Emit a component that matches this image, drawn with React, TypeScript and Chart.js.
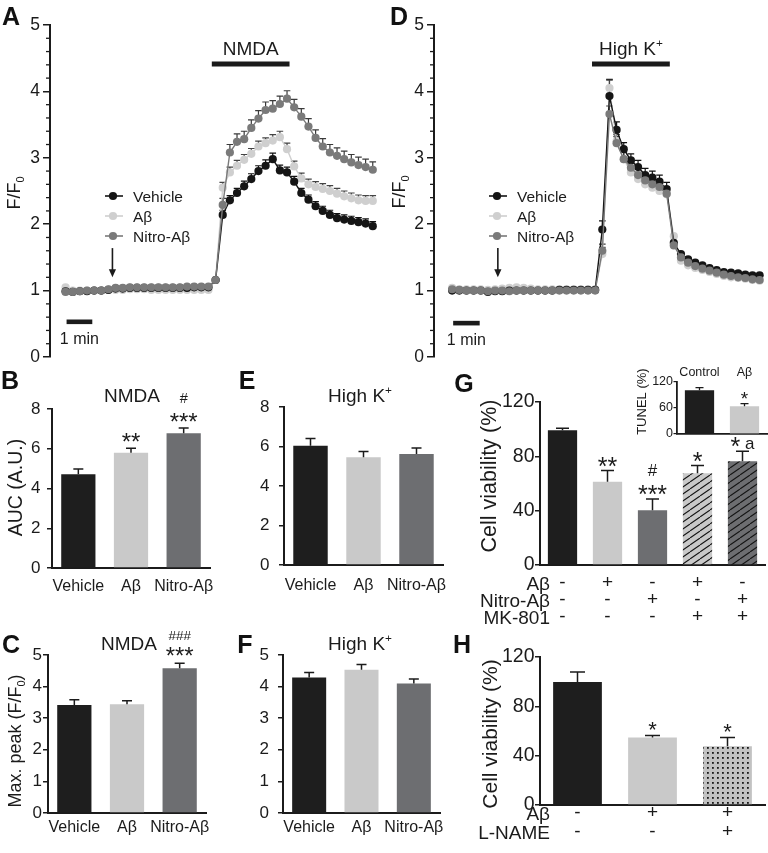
import React, { useEffect, useRef } from 'react';
import { Chart, registerables } from 'chart.js';

Chart.register(...registerables);

const FONT = '"Liberation Sans", Arial, Helvetica, sans-serif';
const INK = '#1b1b1b';
const C_BLACK = '#1e1e1e';
const C_LIGHT = '#c9c9c9';
const C_DARK = '#6d6e71';
const C_LINE_VEH = '#151515';
const C_LINE_AB = '#cfcfcf';
const C_LINE_NIT = '#7a7a7a';

// ---------------- Panels A / D : Ca2+ traces ----------------
const sampleIdx = [0, 1, 2, 3, 4, 5, 6, 7, 8, 9, 10, 11, 12, 13, 14, 15, 16, 17, 18, 19, 20, 21, 22, 23, 24, 25, 26, 27, 28, 29, 30, 31, 32, 33, 34, 35, 36, 37, 38, 39, 40, 41, 42, 43];
const traceNames = ['Vehicle', 'Aβ', 'Nitro-Aβ'];

const nmdaVehicle = [0.99, 0.98, 0.99, 0.99, 1.0, 1.0, 1.01, 1.03, 1.03, 1.04, 1.04, 1.04, 1.04, 1.04, 1.04, 1.04, 1.04, 1.04, 1.05, 1.05, 1.05, 1.16, 2.14, 2.36, 2.47, 2.57, 2.68, 2.8, 2.88, 2.98, 2.81, 2.78, 2.64, 2.47, 2.37, 2.27, 2.2, 2.14, 2.09, 2.07, 2.05, 2.03, 2.01, 1.97];
const nmdaVehicleErr = [0.02, 0.02, 0.02, 0.02, 0.02, 0.02, 0.02, 0.02, 0.02, 0.02, 0.02, 0.02, 0.02, 0.02, 0.02, 0.02, 0.02, 0.02, 0.02, 0.02, 0.02, 0.04, 0.07, 0.07, 0.07, 0.08, 0.08, 0.08, 0.09, 0.09, 0.08, 0.08, 0.08, 0.07, 0.07, 0.07, 0.07, 0.07, 0.07, 0.07, 0.07, 0.07, 0.07, 0.07];
const nmdaAb = [1.05, 1.0, 1.0, 1.0, 1.0, 1.0, 1.01, 1.01, 1.01, 1.02, 1.02, 1.02, 1.01, 1.01, 1.01, 1.01, 1.01, 1.01, 1.01, 1.01, 1.01, 1.16, 2.55, 2.78, 2.88, 2.97, 3.06, 3.17, 3.22, 3.26, 3.31, 3.13, 2.87, 2.69, 2.6, 2.56, 2.53, 2.5, 2.46, 2.42, 2.39, 2.36, 2.35, 2.35];
const nmdaAbErr = [0.02, 0.02, 0.02, 0.02, 0.02, 0.02, 0.02, 0.02, 0.02, 0.02, 0.02, 0.02, 0.02, 0.02, 0.02, 0.02, 0.02, 0.02, 0.02, 0.02, 0.02, 0.04, 0.08, 0.08, 0.08, 0.08, 0.08, 0.08, 0.08, 0.09, 0.09, 0.09, 0.08, 0.08, 0.08, 0.08, 0.08, 0.08, 0.08, 0.08, 0.08, 0.08, 0.08, 0.08];
const nmdaNitro = [0.98, 0.98, 0.99, 1.0, 1.0, 1.0, 1.02, 1.04, 1.04, 1.05, 1.05, 1.05, 1.05, 1.05, 1.05, 1.05, 1.05, 1.06, 1.06, 1.06, 1.06, 1.16, 2.29, 3.08, 3.24, 3.28, 3.45, 3.59, 3.72, 3.74, 3.81, 3.89, 3.76, 3.62, 3.47, 3.3, 3.17, 3.08, 3.03, 2.98, 2.93, 2.89, 2.86, 2.82];
const nmdaNitroErr = [0.02, 0.02, 0.02, 0.02, 0.02, 0.02, 0.02, 0.02, 0.02, 0.02, 0.02, 0.02, 0.02, 0.02, 0.02, 0.02, 0.02, 0.02, 0.02, 0.02, 0.02, 0.04, 0.1, 0.12, 0.12, 0.12, 0.12, 0.12, 0.12, 0.12, 0.12, 0.12, 0.12, 0.12, 0.12, 0.12, 0.12, 0.12, 0.12, 0.12, 0.12, 0.12, 0.12, 0.12];

const hkVehicle = [1.0, 1.0, 1.0, 1.0, 1.0, 0.98, 0.99, 0.99, 1.0, 1.0, 1.0, 1.0, 1.0, 1.0, 1.0, 1.01, 1.01, 1.01, 1.01, 1.01, 1.01, 1.92, 3.93, 3.42, 3.13, 2.96, 2.86, 2.74, 2.7, 2.64, 2.53, 1.72, 1.55, 1.47, 1.42, 1.38, 1.34, 1.31, 1.28, 1.27, 1.26, 1.24, 1.23, 1.23];
const hkVehicleErr = [0.02, 0.02, 0.02, 0.02, 0.02, 0.02, 0.02, 0.02, 0.02, 0.02, 0.02, 0.02, 0.02, 0.02, 0.02, 0.02, 0.02, 0.02, 0.02, 0.02, 0.02, 0.13, 0.25, 0.12, 0.1, 0.1, 0.1, 0.1, 0.1, 0.1, 0.1, 0.05, 0.04, 0.04, 0.04, 0.04, 0.04, 0.04, 0.04, 0.04, 0.04, 0.04, 0.04, 0.04];
const hkAb = [1.04, 1.02, 1.02, 1.02, 1.02, 1.01, 1.02, 1.03, 1.04, 1.05, 1.04, 1.03, 1.02, 1.02, 1.02, 1.02, 1.02, 1.02, 1.02, 1.02, 1.02, 1.55, 4.05, 3.25, 2.98, 2.78, 2.68, 2.6, 2.55, 2.5, 2.45, 1.82, 1.45, 1.38, 1.34, 1.31, 1.28, 1.25, 1.22, 1.2, 1.19, 1.18, 1.16, 1.15];
const hkAbErr = [0.02, 0.02, 0.02, 0.02, 0.02, 0.02, 0.02, 0.02, 0.02, 0.02, 0.02, 0.02, 0.02, 0.02, 0.02, 0.02, 0.02, 0.02, 0.02, 0.02, 0.02, 0.1, 0.12, 0.1, 0.1, 0.1, 0.1, 0.1, 0.1, 0.1, 0.1, 0.05, 0.04, 0.04, 0.04, 0.04, 0.04, 0.04, 0.04, 0.04, 0.04, 0.04, 0.04, 0.04];
const hkNitro = [1.02, 1.01, 1.0, 1.0, 1.0, 0.99, 1.0, 1.0, 0.99, 1.0, 1.0, 1.0, 1.0, 1.0, 1.0, 1.0, 1.0, 1.0, 1.0, 1.0, 1.0, 1.6, 3.66, 3.22, 2.98, 2.85, 2.74, 2.66, 2.6, 2.56, 2.46, 1.68, 1.5, 1.42, 1.37, 1.33, 1.3, 1.27, 1.24, 1.22, 1.2, 1.19, 1.17, 1.16];
const hkNitroErr = [0.02, 0.02, 0.02, 0.02, 0.02, 0.02, 0.02, 0.02, 0.02, 0.02, 0.02, 0.02, 0.02, 0.02, 0.02, 0.02, 0.02, 0.02, 0.02, 0.02, 0.02, 0.1, 0.12, 0.1, 0.1, 0.1, 0.1, 0.1, 0.1, 0.1, 0.1, 0.05, 0.04, 0.04, 0.04, 0.04, 0.04, 0.04, 0.04, 0.04, 0.04, 0.04, 0.04, 0.04];

const nmdaWindow = [20.47, 31.35];
const hkWindow = [19.56, 30.44];
const nmdaArrow = [6.56, 1.64, 1.2];
const hkArrow = [6.39, 1.64, 1.2];
const nmdaScaleBar = [0.14, 3.74, 0.53];
const hkScaleBar = [0.14, 3.85, 0.51];

// ---------------- Bar panels ----------------
const groups3 = ['Vehicle', 'Aβ', 'Nitro-Aβ'];
const aucNmda = [4.72, 5.8, 6.78];
const aucNmdaErr = [0.26, 0.23, 0.27];
const aucNmdaMarks = [[], ['**'], ['***', '#']];
const aucHighK = [6.04, 5.45, 5.62];
const aucHighKErr = [0.36, 0.3, 0.3];
const peakNmda = [3.42, 3.44, 4.58];
const peakNmdaErr = [0.16, 0.11, 0.16];
const peakNmdaMarks = [[], [], ['***', '###']];
const peakHighK = [4.29, 4.53, 4.1];
const peakHighKErr = [0.16, 0.17, 0.14];

const viabG = [99.2, 61.2, 40.3, 67.6, 76.4];
const viabGErr = [1.5, 8.3, 8.3, 5.6, 7.4];
const viabGMarks = [[], ['**'], ['***', '#'], ['*'], ['* a']];
const gRowNames = ['Aβ', 'Nitro-Aβ', 'MK-801'];
const gAbRow = ['-', '+', '-', '+', '-'];
const gNitroRow = ['-', '-', '+', '-', '+'];
const gMkRow = ['-', '-', '-', '+', '+'];

const tunelGroups = ['Control', 'Aβ'];
const tunel = [101, 64];
const tunelErr = [6, 6];
const tunelMarks = [[], ['*']];

const viabH = [99.7, 54.7, 47.7];
const viabHErr = [8.1, 1.6, 7.0];
const viabHMarks = [[], ['*'], ['*']];
const hRowNames = ['Aβ', 'L-NAME'];
const hAbRow = ['-', '+', '+'];
const hLnameRow = ['-', '-', '+'];

// ---------------- helpers ----------------
type Box = { left: number; top: number; width: number; height: number };
type Rect = { l: number; t: number; r: number; b: number };
type Part = { t: string; sub?: boolean; sup?: boolean };

function margins(c: Box, p: Rect) {
  return { l: p.l - c.left, t: p.t - c.top, r: c.left + c.width - p.r, b: c.top + c.height - p.b };
}

// draws text whose cap-middle sits at (x, y)
function drawRich(ctx: CanvasRenderingContext2D, parts: Part[] | string, x: number, y: number, size: number,
  align: 'left' | 'center' | 'right' = 'center', rotate = false) {
  const ps: Part[] = typeof parts === 'string' ? [{ t: parts }] : parts;
  ctx.save();
  ctx.translate(x, y);
  if (rotate) ctx.rotate(-Math.PI / 2);
  ctx.fillStyle = INK;
  ctx.textAlign = 'left';
  ctx.textBaseline = 'alphabetic';
  const fontFor = (p: Part) => `${p.sub || p.sup ? size * 0.62 : size}px ${FONT}`;
  let total = 0;
  const ws = ps.map((p) => { ctx.font = fontFor(p); const w = ctx.measureText(p.t).width; total += w; return w; });
  let cx = align === 'left' ? 0 : align === 'right' ? -total : -total / 2;
  const base = size * 0.36;
  ps.forEach((p, i) => {
    ctx.font = fontFor(p);
    const dy = p.sub ? size * 0.2 : p.sup ? -size * 0.4 : 0;
    ctx.fillText(p.t, cx, base + dy);
    cx += ws[i];
  });
  ctx.restore();
}

// significance marks: '*' at star size, everything else ('#', 'a', spaces) at the smaller size
function drawMark(ctx: CanvasRenderingContext2D, txt: string, x: number, baseline: number, starSize: number, otherSize: number) {
  const chars = txt.split('');
  const sz = (c: string) => (c === '*' ? starSize : otherSize);
  const hasStar = txt.indexOf('*') >= 0;
  let total = 0;
  const ws = chars.map((c) => { ctx.font = `${sz(c)}px ${FONT}`; const w = ctx.measureText(c).width; total += w; return w; });
  let cx = x - total / 2;
  ctx.fillStyle = INK; ctx.textAlign = 'left'; ctx.textBaseline = 'alphabetic';
  chars.forEach((c, i) => {
    ctx.font = `${sz(c)}px ${FONT}`;
    const raise = hasStar && c !== '*' && c !== '#' ? starSize * 0.26 : 0;
    ctx.fillText(c, cx, baseline - raise);
    cx += ws[i];
  });
}

function ChartBox({ box, make }: { box: Box; make: (cv: HTMLCanvasElement) => any }) {
  const ref = useRef<HTMLCanvasElement>(null);
  useEffect(() => {
    const cv = ref.current as HTMLCanvasElement;
    const chart = new Chart(cv, make(cv));
    return () => chart.destroy();
  }, []);
  return (
    <canvas ref={ref} width={box.width} height={box.height}
      style={{ position: 'absolute', left: box.left, top: box.top, width: box.width, height: box.height }} />
  );
}

// ---------------- trace chart ----------------
interface TraceSeries { label: string; data: number[]; err: number[]; color: string; errColor: string; order: number }
interface TraceSpec {
  box: Box; plot: Rect; xMin: number; xMax: number; series: TraceSeries[];
  stim: number[]; stimLabel: Part[]; arrow: number[]; scaleBar: number[]; yTitle: [number, number];
}

function traceConfig(s: TraceSpec) {
  const m = margins(s.box, s.plot);
  const deco = {
    id: 'traceDeco',
    beforeDatasetsDraw(chart: any) {
      const ctx = chart.ctx as CanvasRenderingContext2D; const ys = chart.scales.y;
      ctx.save();
      ctx.lineWidth = 1.2;
      s.series.forEach((ser, d) => {
        const meta = chart.getDatasetMeta(d);
        ctx.strokeStyle = ser.errColor;
        meta.data.forEach((pt: any, i: number) => {
          const top = ys.getPixelForValue(ser.data[i] + ser.err[i]);
          if (pt.y - top < 4) return;
          ctx.beginPath();
          ctx.moveTo(pt.x, pt.y); ctx.lineTo(pt.x, top);
          ctx.moveTo(pt.x - 3.3, top); ctx.lineTo(pt.x + 3.3, top);
          ctx.stroke();
        });
      });
      ctx.restore();
    },
    afterDraw(chart: any) {
      const ctx = chart.ctx as CanvasRenderingContext2D; const xs = chart.scales.x; const ys = chart.scales.y; const a = chart.chartArea;
      ctx.save();
      ctx.strokeStyle = INK; ctx.fillStyle = INK; ctx.lineWidth = 1.3;
      for (let k = 0; k <= 25; k++) {
        if (k % 5 === 0) continue;
        const py = ys.getPixelForValue(k / 5);
        ctx.beginPath(); ctx.moveTo(a.left - 4, py); ctx.lineTo(a.left, py); ctx.stroke();
      }
      // stimulus bar
      const sx1 = xs.getPixelForValue(s.stim[0]); const sx2 = xs.getPixelForValue(s.stim[1]);
      ctx.fillRect(sx1, a.top + 36.5, sx2 - sx1, 5);
      drawRich(ctx, s.stimLabel, (sx1 + sx2) / 2, a.top + 23, 19);
      // arrow
      const ax = xs.getPixelForValue(s.arrow[0]);
      const ay1 = ys.getPixelForValue(s.arrow[1]); const ay2 = ys.getPixelForValue(s.arrow[2]);
      ctx.lineWidth = 1.6;
      ctx.beginPath(); ctx.moveTo(ax, ay1); ctx.lineTo(ax, ay2 - 6); ctx.stroke();
      ctx.beginPath(); ctx.moveTo(ax - 3.6, ay2 - 8); ctx.lineTo(ax + 3.6, ay2 - 8); ctx.lineTo(ax, ay2); ctx.closePath(); ctx.fill();
      // scale bar
      const bx1 = xs.getPixelForValue(s.scaleBar[0]); const bx2 = xs.getPixelForValue(s.scaleBar[1]);
      const by = ys.getPixelForValue(s.scaleBar[2]);
      ctx.fillRect(bx1, by - 2.3, bx2 - bx1, 4.6);
      drawRich(ctx, '1 min', (bx1 + bx2) / 2, by + 16, 16);
      // legend
      s.series.slice().sort((p, q) => traceNames.indexOf(p.label) - traceNames.indexOf(q.label)).forEach((ser, i) => {
        const ly = a.top + 171 + i * 20;
        ctx.strokeStyle = ser.color; ctx.fillStyle = ser.color; ctx.lineWidth = 1.6;
        ctx.beginPath(); ctx.moveTo(a.left + 55, ly); ctx.lineTo(a.left + 73, ly); ctx.stroke();
        ctx.beginPath(); ctx.arc(a.left + 63, ly, 4.1, 0, Math.PI * 2); ctx.fill();
        drawRich(ctx, ser.label, a.left + 83, ly, 15.5, 'left');
      });
      drawRich(ctx, [{ t: 'F/F' }, { t: '0', sub: true }], s.yTitle[0], s.yTitle[1], 18, 'center', true);
      ctx.restore();
    },
  };
  return {
    type: 'line',
    data: {
      labels: sampleIdx,
      datasets: s.series.map((ser) => ({
        label: ser.label, data: ser.data, order: ser.order,
        borderColor: ser.color, backgroundColor: ser.color, pointBackgroundColor: ser.color,
        pointBorderWidth: 0, pointRadius: 4.1, borderWidth: 1.4, tension: 0,
      })),
    },
    options: {
      responsive: false, animation: false, devicePixelRatio: 1,
      layout: { padding: { left: 0, top: m.t, right: m.r, bottom: m.b } },
      plugins: { legend: { display: false }, tooltip: { enabled: false } },
      scales: {
        x: { type: 'linear', min: s.xMin, max: s.xMax, display: false },
        y: {
          min: 0, max: 5,
          afterFit: (sc: any) => { sc.width = m.l; },
          ticks: { stepSize: 1, color: INK, padding: 3, font: { family: FONT, size: 17.5 } },
          grid: { drawOnChartArea: false, tickLength: 7, color: INK, lineWidth: 1.5 },
          border: { color: INK, width: 2 },
        },
      },
    },
    plugins: [deco],
  };
}

// ---------------- bar chart ----------------
interface BarSpec {
  box: Box; plot: Rect; labels: any[]; values: number[]; errs: number[]; colors: any[];
  marks?: string[][]; yMax: number; yStep: number; tickSize: number; tickPad: number; tickLen?: number;
  xSize: number; xPad: number; xLine?: any; capHalf: number;
  star: { size: number; hash: number; off: number; gap: number };
  extra?: (chart: any, ctx: CanvasRenderingContext2D) => void;
}

function barConfig(s: BarSpec) {
  const m = margins(s.box, s.plot);
  const deco = {
    id: 'barDeco',
    afterDatasetsDraw(chart: any) {
      const ctx = chart.ctx as CanvasRenderingContext2D; const ys = chart.scales.y;
      const meta = chart.getDatasetMeta(0);
      ctx.save();
      meta.data.forEach((bar: any, i: number) => {
        const top = ys.getPixelForValue(s.values[i] + s.errs[i]);
        ctx.strokeStyle = INK; ctx.lineWidth = 1.5;
        ctx.beginPath();
        ctx.moveTo(bar.x, bar.y); ctx.lineTo(bar.x, top);
        ctx.moveTo(bar.x - s.capHalf, top); ctx.lineTo(bar.x + s.capHalf, top);
        ctx.stroke();
        const lines = s.marks ? s.marks[i] : [];
        lines.forEach((txt, k) => {
          drawMark(ctx, txt, bar.x, top - s.star.off - k * s.star.gap, s.star.size, s.star.hash);
        });
      });
      ctx.restore();
    },
    afterDraw(chart: any) {
      if (s.extra) { const ctx = chart.ctx; ctx.save(); s.extra(chart, ctx); ctx.restore(); }
    },
  };
  return {
    type: 'bar',
    data: {
      labels: s.labels,
      datasets: [{ data: s.values, backgroundColor: s.colors, borderWidth: 0, barPercentage: 0.65, categoryPercentage: 1 }],
    },
    options: {
      responsive: false, animation: false, devicePixelRatio: 1,
      layout: { padding: { left: 0, top: m.t, right: m.r, bottom: 0 } },
      plugins: { legend: { display: false }, tooltip: { enabled: false } },
      scales: {
        x: {
          afterFit: (sc: any) => { sc.height = m.b; },
          grid: { display: false, drawTicks: false },
          border: { display: true, color: INK, width: 2 },
          ticks: { color: INK, padding: s.xPad, maxRotation: 0, autoSkip: false, font: { family: FONT, size: s.xSize, lineHeight: s.xLine ?? 1.2 } },
        },
        y: {
          min: 0, max: s.yMax,
          afterFit: (sc: any) => { sc.width = m.l; },
          ticks: { stepSize: s.yStep, color: INK, padding: s.tickPad, font: { family: FONT, size: s.tickSize } },
          grid: { drawOnChartArea: false, tickLength: s.tickLen ?? 5, color: INK, lineWidth: 1.5 },
          border: { color: INK, width: 2 },
        },
      },
    },
    plugins: [deco],
  };
}

function hatch(cv: HTMLCanvasElement, base: string) {
  const t = document.createElement('canvas'); t.width = 10; t.height = 7;
  const x = t.getContext('2d') as CanvasRenderingContext2D;
  x.fillStyle = base; x.fillRect(0, 0, 10, 7);
  x.strokeStyle = '#151515'; x.lineWidth = 1.1;
  x.beginPath();
  x.moveTo(0, 7); x.lineTo(10, 0);
  x.moveTo(-10, 7); x.lineTo(0, 0);
  x.moveTo(10, 7); x.lineTo(20, 0);
  x.stroke();
  return (cv.getContext('2d') as CanvasRenderingContext2D).createPattern(t, 'repeat');
}

function dots(cv: HTMLCanvasElement, base: string) {
  const t = document.createElement('canvas'); t.width = 5; t.height = 5;
  const x = t.getContext('2d') as CanvasRenderingContext2D;
  x.fillStyle = base; x.fillRect(0, 0, 5, 5);
  x.fillStyle = '#1a1a1a'; x.fillRect(2, 2, 1.8, 1.8);
  return (cv.getContext('2d') as CanvasRenderingContext2D).createPattern(t, 'repeat');
}

// ---------------- layout ----------------
const boxA: Box = { left: 0, top: 0, width: 384, height: 372 };
const boxD: Box = { left: 384, top: 0, width: 384, height: 372 };
const boxB: Box = { left: 0, top: 370, width: 250, height: 235 };
const boxE: Box = { left: 250, top: 370, width: 220, height: 235 };
const boxG: Box = { left: 470, top: 370, width: 298, height: 262 };
const boxT: Box = { left: 620, top: 352, width: 148, height: 92 };
const boxC: Box = { left: 0, top: 620, width: 250, height: 233 };
const boxF: Box = { left: 250, top: 620, width: 220, height: 233 };
const boxH: Box = { left: 470, top: 620, width: 298, height: 233 };

const barColors3 = [C_BLACK, C_LIGHT, C_DARK];
const nmdaTitle: Part[] = [{ t: 'NMDA' }];
const hkTitle: Part[] = [{ t: 'High K' }, { t: '+', sup: true }];

function makeA() {
  return traceConfig({
    box: boxA, plot: { l: 50, t: 25, r: 383, b: 357 }, xMin: -2.18, xMax: 44,
    series: [
      { label: traceNames[2], data: nmdaNitro, err: nmdaNitroErr, color: C_LINE_NIT, errColor: '#3a3a3a', order: 1 },
      { label: traceNames[0], data: nmdaVehicle, err: nmdaVehicleErr, color: C_LINE_VEH, errColor: '#111', order: 2 },
      { label: traceNames[1], data: nmdaAb, err: nmdaAbErr, color: C_LINE_AB, errColor: '#444', order: 3 },
    ],
    stim: nmdaWindow, stimLabel: nmdaTitle, arrow: nmdaArrow, scaleBar: nmdaScaleBar, yTitle: [14, 193],
  });
}

function makeD() {
  return traceConfig({
    box: boxD, plot: { l: 434, t: 25, r: 766, b: 357 }, xMin: -2.54, xMax: 43.6,
    series: [
      { label: traceNames[2], data: hkNitro, err: hkNitroErr, color: C_LINE_NIT, errColor: '#3a3a3a', order: 1 },
      { label: traceNames[0], data: hkVehicle, err: hkVehicleErr, color: C_LINE_VEH, errColor: '#111', order: 2 },
      { label: traceNames[1], data: hkAb, err: hkAbErr, color: C_LINE_AB, errColor: '#444', order: 3 },
    ],
    stim: hkWindow, stimLabel: hkTitle, arrow: hkArrow, scaleBar: hkScaleBar, yTitle: [15, 192],
  });
}

function makeB() {
  return barConfig({
    box: boxB, plot: { l: 52, t: 409, r: 210, b: 568 }, labels: groups3, values: aucNmda, errs: aucNmdaErr,
    colors: barColors3, marks: aucNmdaMarks, yMax: 8, yStep: 2, tickSize: 17, tickPad: 6.5,
    xSize: 16, xPad: 9, capHalf: 5, star: { size: 24, hash: 14.5, off: -2, gap: 27 },
    extra: (chart, ctx) => {
      drawRich(ctx, nmdaTitle, 132, 25, 19);
      drawRich(ctx, 'AUC (A.U.)', 15, 117.5, 19.5, 'center', true);
    },
  });
}

function makeE() {
  return barConfig({
    box: boxE, plot: { l: 284, t: 407, r: 443, b: 565 }, labels: groups3, values: aucHighK, errs: aucHighKErr,
    colors: barColors3, yMax: 8, yStep: 2, tickSize: 17, tickPad: 9.5,
    xSize: 16, xPad: 11, capHalf: 5, star: { size: 24, hash: 14, off: 0, gap: 25 },
    extra: (chart, ctx) => { drawRich(ctx, hkTitle, 110, 25, 19); },
  });
}

function makeC() {
  return barConfig({
    box: boxC, plot: { l: 48, t: 655, r: 206, b: 813 }, labels: groups3, values: peakNmda, errs: peakNmdaErr,
    colors: barColors3, marks: peakNmdaMarks, yMax: 5, yStep: 1, tickSize: 17, tickPad: 1,
    xSize: 16, xPad: 5, capHalf: 5, star: { size: 24, hash: 13.5, off: -0.6, gap: 23.5 },
    extra: (chart, ctx) => {
      drawRich(ctx, nmdaTitle, 129, 23, 19);
      drawRich(ctx, [{ t: 'Max. peak (F/F' }, { t: '0', sub: true }, { t: ')' }], 15, 121, 18, 'center', true);
    },
  });
}

function makeF() {
  return barConfig({
    box: boxF, plot: { l: 283, t: 655, r: 440, b: 813 }, labels: groups3, values: peakHighK, errs: peakHighKErr,
    colors: barColors3, yMax: 5, yStep: 1, tickSize: 17, tickPad: 9,
    xSize: 16, xPad: 5, capHalf: 5, star: { size: 24, hash: 13, off: 0, gap: 22 },
    extra: (chart, ctx) => { drawRich(ctx, hkTitle, 110, 23, 19); },
  });
}

function makeG(cv: HTMLCanvasElement) {
  const labels = gAbRow.map((v, i) => [v, gNitroRow[i], gMkRow[i]]);
  const colors = [C_BLACK, C_LIGHT, C_DARK, hatch(cv, C_LIGHT), hatch(cv, C_DARK)];
  return barConfig({
    box: boxG, plot: { l: 540, t: 402, r: 765, b: 565 }, labels, values: viabG, errs: viabGErr,
    colors, marks: viabGMarks, yMax: 120, yStep: 40, tickSize: 19.5, tickPad: 0.5,
    xSize: 19, xPad: 9.5, xLine: '17px', capHalf: 6.5, star: { size: 25, hash: 17, off: -4, gap: 26.5 },
    extra: (chart, ctx) => {
      const a = chart.chartArea;
      gRowNames.forEach((n, k) => drawRich(ctx, n, 80, a.bottom + 9.5 + 17 * (k + 0.5), 19, 'right'));
      drawRich(ctx, 'Cell viability (%)', 18, 106, 21.5, 'center', true);
    },
  });
}

function makeH(cv: HTMLCanvasElement) {
  const labels = hAbRow.map((v, i) => [v, hLnameRow[i]]);
  const colors = [C_BLACK, C_LIGHT, dots(cv, '#c2c2c2')];
  return barConfig({
    box: boxH, plot: { l: 540, t: 657, r: 765, b: 805 }, labels, values: viabH, errs: viabHErr,
    colors, marks: viabHMarks, yMax: 120, yStep: 40, tickSize: 19.5, tickPad: 0.5,
    xSize: 19, xPad: -1.8, xLine: '19px', capHalf: 7.5, star: { size: 22, hash: 15, off: -1, gap: 22 },
    extra: (chart, ctx) => {
      const a = chart.chartArea;
      hRowNames.forEach((n, k) => drawRich(ctx, n, 80, a.bottom - 1.8 + 19 * (k + 0.5), 19, 'right'));
      drawRich(ctx, 'Cell viability (%)', 19, 114, 21, 'center', true);
    },
  });
}

function makeTunel() {
  const plot = { l: 677, t: 382, r: 767, b: 434 };
  const m = margins(boxT, plot);
  const deco = {
    id: 'tunelDeco',
    afterDatasetsDraw(chart: any) {
      const ctx = chart.ctx as CanvasRenderingContext2D; const ys = chart.scales.y;
      const meta = chart.getDatasetMeta(0);
      ctx.save();
      meta.data.forEach((bar: any, i: number) => {
        const top = ys.getPixelForValue(tunel[i] + tunelErr[i]);
        ctx.strokeStyle = INK; ctx.lineWidth = 1.3;
        ctx.beginPath();
        ctx.moveTo(bar.x, bar.y); ctx.lineTo(bar.x, top);
        ctx.moveTo(bar.x - 4, top); ctx.lineTo(bar.x + 4, top);
        ctx.stroke();
        tunelMarks[i].forEach((txt) => drawMark(ctx, txt, bar.x, top + 1, 19, 13));
      });
      drawRich(ctx, 'TUNEL (%)', 21.7, 49.6, 13, 'center', true);
      ctx.restore();
    },
  };
  return {
    type: 'bar',
    data: { labels: tunelGroups, datasets: [{ data: tunel, backgroundColor: [C_BLACK, C_LIGHT], borderWidth: 0, barPercentage: 0.65, categoryPercentage: 1 }] },
    options: {
      responsive: false, animation: false, devicePixelRatio: 1,
      layout: { padding: { left: 0, top: 0, right: m.r, bottom: 0 } },
      plugins: { legend: { display: false }, tooltip: { enabled: false } },
      scales: {
        x: {
          afterFit: (sc: any) => { sc.height = m.b; },
          grid: { display: false, drawTicks: false }, ticks: { display: false },
          border: { display: true, color: INK, width: 1.8 },
        },
        x2: {
          type: 'category', position: 'top', labels: tunelGroups, offset: true,
          afterFit: (sc: any) => { sc.height = m.t; },
          grid: { display: false, drawTicks: false }, border: { display: false },
          ticks: { color: INK, padding: 1.8, maxRotation: 0, minRotation: 0, autoSkip: false, font: { family: FONT, size: 12.5 } },
        },
        y: {
          min: 0, max: 120,
          afterFit: (sc: any) => { sc.width = m.l; },
          ticks: { stepSize: 60, color: INK, padding: 0.5, font: { family: FONT, size: 12.5 } },
          grid: { drawOnChartArea: false, tickLength: 3.5, color: INK, lineWidth: 1.2 },
          border: { color: INK, width: 1.8 },
        },
      },
    },
    plugins: [deco],
  };
}

const panelLetters = [
  { t: 'A', x: 11, y: 16 }, { t: 'D', x: 399, y: 16 },
  { t: 'B', x: 10, y: 380 }, { t: 'E', x: 247, y: 380 }, { t: 'G', x: 464, y: 383 },
  { t: 'C', x: 11, y: 644 }, { t: 'F', x: 245, y: 644 }, { t: 'H', x: 462, y: 644 },
];

export default function App() {
  return (
    <div style={{ position: 'absolute', left: 0, top: 0, width: 768, height: 853, background: '#ffffff', overflow: 'hidden' }}>
      <ChartBox box={boxA} make={makeA} />
      <ChartBox box={boxD} make={makeD} />
      <ChartBox box={boxB} make={makeB} />
      <ChartBox box={boxE} make={makeE} />
      <ChartBox box={boxG} make={makeG} />
      <ChartBox box={boxT} make={makeTunel} />
      <ChartBox box={boxC} make={makeC} />
      <ChartBox box={boxF} make={makeF} />
      <ChartBox box={boxH} make={makeH} />
      {panelLetters.map((p) => (
        <div key={p.t} style={{
          position: 'absolute', left: p.x - 15, top: p.y - 12.3, width: 30, textAlign: 'center',
          font: `bold 25px ${FONT}`, lineHeight: '25px', color: '#111',
        }}>{p.t}</div>
      ))}
    </div>
  );
}
